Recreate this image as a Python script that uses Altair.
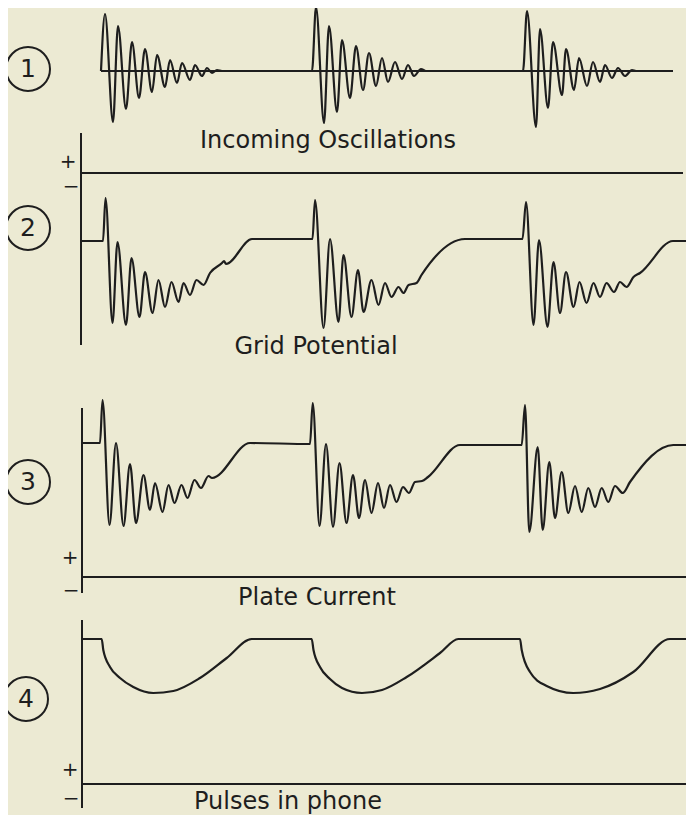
import altair as alt
import pandas as pd

# ---------------- data ----------------
# time axis (arbitrary units, same for all four traces)
# Panel 1: incoming oscillations, amplitude about the zero line
p1_t = [101, 105, 113, 118, 126, 132, 139, 145, 152, 157, 165, 170, 177, 182, 190, 195, 202, 207, 212, 217, 222,
        312, 316, 324, 329, 337, 342, 350, 356, 363, 369, 376, 382, 388, 395, 402, 408, 414, 421, 426,
        523, 527, 536, 540, 548, 553, 562, 566, 574, 579, 587, 593, 600, 605, 612, 618, 625, 632, 636, 673]
p1_v = [0, 57, -51, 45, -38, 29, -27, 22, -21, 16, -16, 11, -12, 8, -9, 6, -5, 3, -2, 1, 0,
        0, 64, -52, 45, -41, 31, -27, 25, -19, 18, -15, 13, -11, 9, -8, 6, -5, 2, 0,
        0, 60, -56, 42, -37, 29, -24, 22, -19, 13, -15, 9, -11, 6, -7, 3, -5, 1, 0, 0]

# Panel 2: grid potential (negative, below the zero line)
p2_t = [81, 103, 105.5, 112.5, 117.5, 126, 131.5, 139.5, 145, 152.5, 158.5, 165, 171.5, 178.5, 183.5, 190,
        196.5, 203.5, 210, 222, 224, 226, 252,
        312.5, 315, 323.5, 330, 338.5, 343.5, 351.5, 358, 363.5, 371.5, 378.5, 385, 391.5, 398.5, 403.5,
        408.5, 416.5, 421.5, 465,
        522.5, 526, 533.5, 539, 547.5, 553.5, 560, 566, 573.5, 579.5, 586.5, 593.5, 600, 606.5, 614, 620,
        626.5, 633.5, 640, 673, 688]
p2_v = [-68, -68, -25, -150, -69, -152, -85, -144, -99, -140, -107, -134, -109, -129, -110, -122,
        -107, -112, -100, -90, -88, -91, -66,
        -66, -27, -155, -66, -149, -82, -144, -97, -139, -107, -132, -110, -124, -114, -120,
        -112, -110, -102, -66,
        -66, -29, -152, -67, -154, -89, -140, -99, -134, -109, -130, -110, -124, -110, -119, -109,
        -114, -104, -100, -68, -68]

# Panel 3: plate current (positive, above the zero line)
p3_t = [82, 100, 102.5, 109.5, 116, 123.5, 130, 136, 143.5, 150, 155, 162.5, 168.5, 174.5, 181.5, 187.5,
        194.5, 201, 208.5, 212, 250,
        310, 312.7, 319.5, 326, 333, 339.5, 346.5, 353, 359, 365, 371.5, 378, 384, 390, 396.5, 403, 409,
        415, 422, 428, 460,
        521.7, 525, 529.3, 537.7, 542.7, 549.3, 555, 561.7, 568.3, 575, 581.7, 588.3, 595, 601.7, 608.3,
        615, 622.7, 630, 673.3, 686]
p3_v = [134, 134, 177, 52, 134, 51, 113, 54, 102, 67, 94, 65, 92, 74, 92, 79,
        97, 89, 101, 99, 134,
        133, 174, 51, 133, 50, 114, 54, 102, 59, 97, 64, 94, 69, 92, 75, 90, 84,
        95, 96, 100, 132,
        132, 172, 45, 130, 47, 115, 59, 105, 64, 91, 65, 89, 70, 89, 75,
        91, 84, 95, 132, 132]

# Panel 4: pulses in the phone (positive, above the zero line)
p4_t = [82, 101.7, 103.3, 110, 120, 133.3, 153.3, 173.3, 200, 226.7, 251.7,
        311.7, 313.5, 320, 330, 342, 362, 382, 406.7, 440, 458.3,
        520, 521.7, 530, 546.7, 573.3, 600, 633.3, 670, 688]
p4_v = [145, 145, 134, 117, 106, 97, 91, 93, 106, 126, 145,
        145, 134, 117, 105, 96, 91, 94, 107, 131, 145,
        145, 134, 112, 98, 91, 95, 112, 145, 145]

numbers = ["1", "2", "3", "4"]
labels = ["Incoming  Oscillations", "Grid Potential", "Plate Current", "Pulses in phone"]

# ---------------- layout (page pixels) ----------------
INK = "#1e1e1e"
BG = "#ECEAD3"
FONT = "DejaVu Sans"
zero_line = {1: 71, 2: 173, 3: 577, 4: 784}

rows = []
for panel, (ts, vs) in {1: (p1_t, p1_v), 2: (p2_t, p2_v), 3: (p3_t, p3_v), 4: (p4_t, p4_v)}.items():
    for i, (t, v) in enumerate(zip(ts, vs)):
        rows.append({"panel": panel, "i": i, "t": t, "y": zero_line[panel] - v})
waves = pd.DataFrame(rows)

circ = pd.DataFrame({"x": [28, 28, 28, 26], "y": [69, 228, 482, 699], "txt": numbers})
lab = pd.DataFrame({"x": [328, 316, 317, 288], "y": [141, 347, 598, 802], "txt": labels})
signs = pd.DataFrame({"x": [68, 71, 70, 71, 70, 71], "y": [162, 187, 558, 591, 770, 799],
                      "txt": ["+", "\u2212", "+", "\u2212", "+", "\u2212"]})
hrules = pd.DataFrame({"x": [101, 81, 82, 82], "x2": [673, 683, 688, 690], "y": [71, 173, 577, 784]})
vrules = pd.DataFrame({"x": [81, 82, 82], "y": [133, 408, 620], "y2": [345, 593, 808]})

X = alt.Scale(domain=[8, 686])
Y = alt.Scale(domain=[8, 815], reverse=True)

wave_layer = alt.Chart(waves).mark_line(interpolate="monotone", color=INK, strokeWidth=2.2).encode(
    x=alt.X("t:Q", scale=X, axis=None),
    y=alt.Y("y:Q", scale=Y, axis=None),
    detail="panel:N",
    order="i:Q",
)
h_layer = alt.Chart(hrules).mark_rule(color=INK, strokeWidth=2).encode(
    x=alt.X("x:Q", scale=X, axis=None), x2="x2:Q", y=alt.Y("y:Q", scale=Y, axis=None))
v_layer = alt.Chart(vrules).mark_rule(color=INK, strokeWidth=2).encode(
    x=alt.X("x:Q", scale=X, axis=None), y=alt.Y("y:Q", scale=Y, axis=None), y2="y2:Q")
circle_layer = alt.Chart(circ).mark_point(shape="circle", size=1936, filled=False, color=INK,
                                          strokeWidth=2, opacity=1).encode(
    x=alt.X("x:Q", scale=X, axis=None), y=alt.Y("y:Q", scale=Y, axis=None))
num_layer = alt.Chart(circ).mark_text(font=FONT, fontSize=25, color=INK, align="center",
                                      baseline="middle").encode(
    x=alt.X("x:Q", scale=X, axis=None), y=alt.Y("y:Q", scale=Y, axis=None), text="txt:N")
label_layer = alt.Chart(lab).mark_text(font=FONT, fontSize=24, color=INK, align="center",
                                       baseline="middle").encode(
    x=alt.X("x:Q", scale=X, axis=None), y=alt.Y("y:Q", scale=Y, axis=None), text="txt:N")
sign_layer = alt.Chart(signs).mark_text(font=FONT, fontSize=20, color=INK, align="center",
                                        baseline="middle").encode(
    x=alt.X("x:Q", scale=X, axis=None), y=alt.Y("y:Q", scale=Y, axis=None), text="txt:N")

chart = alt.layer(h_layer, v_layer, wave_layer, circle_layer, num_layer, label_layer, sign_layer).properties(
    width=678, height=807, padding=0, background=BG,
    autosize=alt.AutoSizeParams(type="none"),
).configure_view(stroke=None, fill=BG)

chart.save("out.html", embed_options={"renderer": "svg", "actions": False})
